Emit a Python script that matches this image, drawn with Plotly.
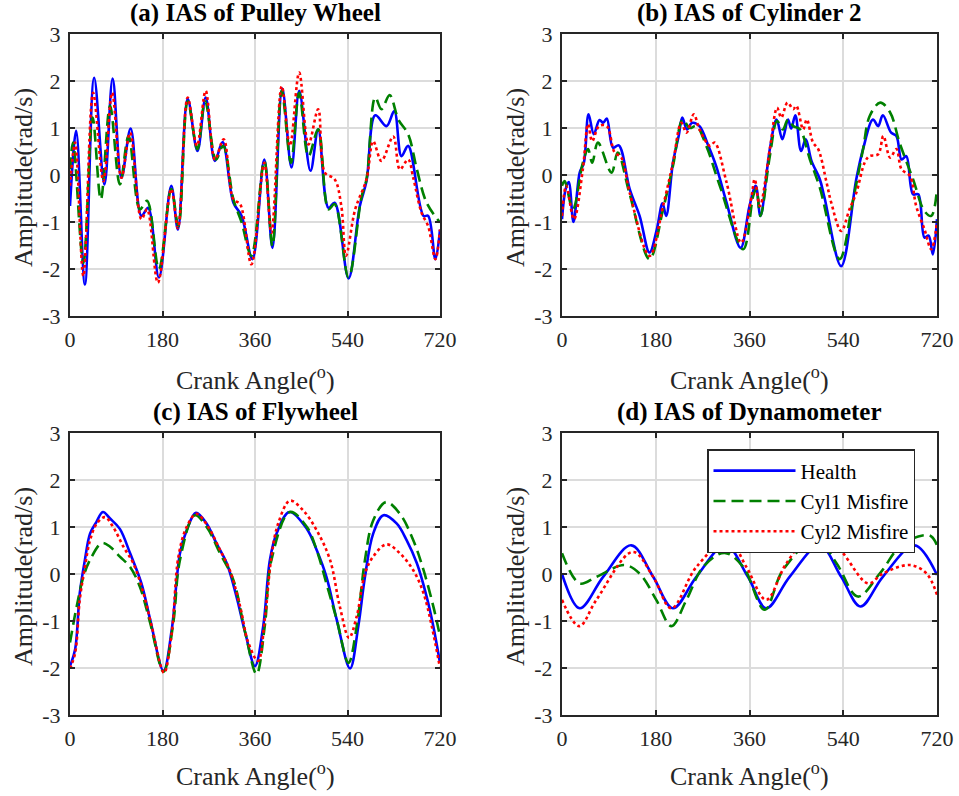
import plotly.graph_objects as go

# ---------------- data ----------------
# (a) IAS of Pulley Wheel
a_h_x = [0, 12, 29, 47, 67, 83, 100, 118, 139, 152, 173, 197, 210, 229, 248, 264, 282, 297, 318, 334, 355, 378, 394, 413, 431, 446, 468, 483, 503, 515, 542, 564, 577, 594, 616, 631, 645, 658, 688, 697, 711, 720]
a_h_y = [-0.66, 0.94, -2.33, 2.07, -0.2, 2.05, -0.06, 0.99, -0.87, -0.7, -2.18, -0.23, -1.16, 1.62, 0.51, 1.65, 0.3, 0.7, -0.59, -0.87, -1.79, 0.33, -1.55, 1.84, 0.16, 1.79, 0.09, 0.97, -0.7, -0.59, -2.2, -0.66, -0.13, 1.27, 1.04, 1.36, 0.4, 0.62, -0.87, -0.87, -1.79, -1.16]
a_c1_x = [0, 6, 26, 44, 60, 78, 97, 114, 136, 150, 173, 197, 211, 229, 248, 263, 284, 298, 318, 334, 353, 378, 394, 412, 430, 446, 464, 483, 503, 515, 542, 567, 577, 594, 606, 622, 639, 658, 675, 694, 720]
a_c1_y = [0.12, 0.69, -1.87, 1.22, -0.52, 1.47, -0.2, 0.83, -0.73, -0.55, -2.0, -0.3, -1.09, 1.57, 0.55, 1.57, 0.33, 0.62, -0.52, -1.01, -1.72, 0.3, -1.51, 1.79, 0.26, 1.75, 0.4, 0.97, -0.73, -0.62, -2.18, -0.48, -0.09, 1.65, 1.4, 1.7, 1.18, 0.87, 0.12, -0.59, -1.01]
a_c2_x = [0, 10, 26, 45, 65, 82, 100, 117, 139, 150, 171, 197, 210, 229, 247, 264, 282, 299, 318, 331, 353, 378, 392, 412, 428, 446, 464, 483, 496, 515, 528, 537, 555, 577, 590, 606, 629, 642, 658, 668, 684, 697, 711, 720]
a_c2_y = [-0.23, 0.69, -2.15, 1.75, -0.13, 1.75, -0.06, 0.9, -0.94, -0.73, -2.29, -0.3, -1.13, 1.65, 0.62, 1.79, 0.33, 0.76, -0.52, -0.62, -1.9, 0.26, -1.23, 1.89, 0.62, 2.18, 0.65, 1.4, 0.05, -0.09, -0.66, -1.72, -0.73, -0.09, 0.72, 0.3, 0.82, 0.12, 0.33, -0.06, -0.8, -1.09, -1.79, -1.16]

# (b) IAS of Cylinder 2
b_h_x = [0, 7, 13, 22, 34, 42, 51, 61, 72, 79, 86, 98, 109, 130, 149, 168, 182, 193, 200, 213, 224, 231, 240, 250, 264, 280, 296, 316, 343, 360, 372, 381, 399, 412, 423, 434, 440, 448, 459, 468, 479, 495, 504, 536, 565, 578, 597, 607, 616, 632, 642, 652, 661, 674, 684, 696, 704, 712, 720]
b_h_y = [-0.94, -0.3, -0.15, -1.0, 0.05, 0.26, 1.29, 0.87, 1.17, 1.11, 1.2, 0.58, 0.63, -0.3, -0.87, -1.65, -1.16, -0.6, -0.87, 0.26, 0.83, 1.22, 0.97, 1.11, 1.04, 0.65, 0.19, -0.59, -1.55, -0.66, -0.23, -0.87, 0.55, 1.18, 0.76, 1.18, 0.99, 1.27, 0.51, 0.76, 0.3, -0.09, -0.48, -1.94, -0.09, 0.55, 1.18, 1.04, 1.27, 0.9, 0.83, 0.33, 0.4, -0.41, -0.41, -1.33, -1.29, -1.69, -0.94]
b_c1_x = [0, 5, 21, 40, 50, 58, 69, 95, 107, 130, 168, 194, 213, 232, 245, 258, 277, 303, 348, 367, 373, 381, 399, 413, 424, 434, 444, 457, 476, 495, 533, 559, 578, 591, 611, 630, 648, 674, 696, 709, 720]
b_c1_y = [-0.23, -0.13, -0.73, 0.26, 0.55, 0.26, 0.69, 0.05, 0.48, -0.41, -1.79, -0.73, 0.19, 1.18, 1.0, 1.04, 0.62, -0.23, -1.58, -0.45, -0.3, -0.87, 0.4, 1.15, 0.97, 1.18, 1.04, 0.97, 0.33, -0.27, -1.79, -0.52, 0.55, 1.26, 1.54, 1.33, 0.69, -0.09, -0.77, -0.87, -0.3]
b_c2_x = [0, 8, 23, 40, 50, 58, 71, 86, 101, 114, 130, 168, 194, 213, 229, 239, 253, 264, 284, 293, 316, 344, 364, 370, 380, 399, 413, 421, 433, 444, 450, 463, 470, 482, 492, 508, 517, 536, 552, 565, 581, 590, 607, 617, 630, 642, 652, 668, 680, 696, 709, 720]
b_c2_y = [-0.87, -0.23, -0.94, 0.12, 1.08, 0.72, 1.04, 1.04, 0.48, 0.37, -0.38, -1.72, -0.66, 0.26, 1.11, 0.9, 1.29, 0.97, 0.62, 0.69, -0.16, -1.44, -0.45, -0.09, -0.66, 0.55, 1.43, 1.22, 1.54, 1.4, 1.47, 0.97, 1.18, 0.69, 0.55, -0.16, -0.59, -1.19, -0.73, -0.38, 0.26, 0.4, 0.44, 0.83, 0.37, 0.55, 0.12, -0.02, -0.66, -1.16, -1.58, -1.01]

# (c) IAS of Flywheel
c_h_x = [0, 10, 19, 29, 39, 51, 64, 78, 97, 117, 139, 156, 182, 198, 214, 227, 245, 266, 285, 305, 324, 341, 360, 376, 389, 402, 427, 461, 480, 499, 519, 545, 561, 574, 590, 610, 636, 655, 675, 694, 707, 720]
c_h_y = [-1.96, -1.6, -0.41, 0.3, 0.86, 1.1, 1.32, 1.18, 0.96, 0.44, -0.2, -0.97, -2.06, -1.18, 0.44, 0.93, 1.3, 1.07, 0.65, 0.23, -0.48, -1.25, -1.96, -1.11, 0.3, 0.86, 1.32, 0.96, 0.51, -0.06, -0.97, -2.01, -1.11, -0.06, 0.86, 1.25, 1.07, 0.72, 0.23, -0.48, -1.11, -1.89]
c_c1_x = [0, 13, 26, 39, 62, 78, 97, 117, 136, 156, 182, 201, 214, 243, 266, 292, 318, 341, 363, 379, 392, 428, 461, 480, 499, 519, 542, 558, 574, 590, 615, 642, 668, 688, 707, 720]
c_c1_y = [-1.46, -0.69, -0.06, 0.3, 0.66, 0.58, 0.37, 0.15, -0.27, -1.04, -2.08, -1.04, 0.3, 1.25, 1.0, 0.44, -0.13, -1.25, -2.13, -1.11, 0.3, 1.32, 1.0, 0.51, -0.2, -0.97, -1.89, -1.11, 0.3, 1.14, 1.53, 1.28, 0.72, 0.08, -0.69, -1.32]
c_c2_x = [0, 10, 19, 29, 39, 52, 68, 84, 104, 123, 143, 159, 183, 198, 211, 227, 246, 269, 292, 311, 331, 347, 366, 379, 392, 405, 428, 454, 480, 506, 525, 543, 558, 574, 590, 616, 642, 668, 688, 704, 720]
c_c2_y = [-2.01, -1.68, -0.55, 0.15, 0.72, 1.07, 1.21, 1.0, 0.58, 0.23, -0.41, -1.11, -2.1, -1.25, 0.37, 1.0, 1.28, 1.0, 0.51, 0.08, -0.69, -1.46, -1.85, -0.97, 0.37, 1.07, 1.56, 1.35, 0.93, 0.3, -0.69, -1.36, -0.9, 0.01, 0.37, 0.63, 0.44, 0.08, -0.41, -1.11, -2.0]

# (d) IAS of Dynamometer
d_h_x = [0, 34, 79, 133, 175, 213, 258, 314, 357, 392, 437, 495, 536, 573, 616, 677, 720]
d_h_y = [0.0, -0.73, -0.06, 0.61, -0.06, -0.73, -0.06, 0.61, -0.06, -0.73, -0.06, 0.61, -0.06, -0.69, -0.06, 0.61, -0.02]
d_c1_x = [0, 34, 66, 120, 149, 181, 210, 239, 271, 312, 348, 389, 424, 488, 527, 568, 610, 655, 706, 720]
d_c1_y = [0.44, -0.2, -0.06, 0.19, 0.01, -0.55, -1.11, -0.55, 0.15, 0.45, 0.15, -0.76, 0.08, 0.75, 0.23, -0.48, 0.01, 0.65, 0.82, 0.61]
d_c2_x = [0, 33, 66, 136, 175, 210, 258, 319, 354, 392, 431, 495, 540, 588, 616, 668, 700, 720]
d_c2_y = [-0.55, -1.11, -0.55, 0.47, -0.06, -0.73, 0.15, 0.72, 0.15, -0.55, 0.23, 1.05, 0.44, -0.2, 0.01, 0.19, 0.01, -0.44]

titles = ["(a) IAS of Pulley Wheel", "(b) IAS of Cylinder 2",
          "(c) IAS of Flywheel", "(d) IAS of Dynamometer"]
series_names = ["Health", "Cyl1 Misfire", "Cyl2 Misfire"]
x_ticks = [0, 180, 360, 540, 720]
x_ticktext = ["0", "180", "360", "540", "720"]
y_ticks = [-3, -2, -1, 0, 1, 2, 3]
y_ticktext = ["-3", "-2", "-1", "0", "1", "2", "3"]
x_label = "Crank Angle(<sup>o</sup>)"
y_label = "Amplitude(rad/s)"

panels = [
    [(a_h_x, a_h_y), (a_c1_x, a_c1_y), (a_c2_x, a_c2_y)],
    [(b_h_x, b_h_y), (b_c1_x, b_c1_y), (b_c2_x, b_c2_y)],
    [(c_h_x, c_h_y), (c_c1_x, c_c1_y), (c_c2_x, c_c2_y)],
    [(d_h_x, d_h_y), (d_c1_x, d_c1_y), (d_c2_x, d_c2_y)],
]

# ---------------- styling ----------------
W, H = 959, 796
FONT = "Liberation Serif"
TXT = "#262626"
colors = ["#0000ff", "#008000", "#ff0000"]
dashes = ["solid", "12px,6px", "3px,3px"]
# pixel boxes: (left, right, top, bottom)
boxes = [(70, 440, 34, 316), (562, 937, 34, 316),
         (70, 440, 433, 715), (562, 937, 433, 715)]
xtitle_shift = [-62, -62, -59, -59]

fig = go.Figure()
layout = dict(
    width=W, height=H,
    margin=dict(l=0, r=0, t=0, b=0, autoexpand=False),
    paper_bgcolor="white", plot_bgcolor="white",
    font=dict(family=FONT, size=22, color=TXT),
    showlegend=True,
)
annotations = []
for i, (panel, box) in enumerate(zip(panels, boxes)):
    l, r, t, b = box
    xd = [l / W, r / W]
    yd = [1 - b / H, 1 - t / H]
    xa = "x" if i == 0 else f"x{i+1}"
    ya = "y" if i == 0 else f"y{i+1}"
    for j, (xs, ys) in enumerate(panel):
        fig.add_trace(go.Scatter(
            x=xs, y=ys, mode="lines", xaxis=xa, yaxis=ya,
            name=series_names[j], showlegend=(i == 3),
            line=dict(color=colors[j], width=2.6, dash=dashes[j],
                      shape="spline", smoothing=1.0),
        ))
    common = dict(showline=True, mirror="ticks", linecolor=TXT, linewidth=2,
                  ticks="inside", ticklen=5, tickwidth=2, tickcolor=TXT,
                  showgrid=True, gridcolor="#dcdcdc", gridwidth=1.5,
                  zeroline=False, automargin=False, ticklabelstandoff=3,
                  tickfont=dict(family=FONT, size=22, color=TXT))
    layout["xaxis" if i == 0 else f"xaxis{i+1}"] = dict(
        domain=xd, anchor=ya, range=[0, 720], tickvals=x_ticks, ticktext=x_ticktext,
        **common)
    layout["yaxis" if i == 0 else f"yaxis{i+1}"] = dict(
        domain=yd, anchor=xa, range=[-3, 3], tickvals=y_ticks, ticktext=y_ticktext,
        **common)
    # panel title
    annotations.append(dict(
        text="<b>" + titles[i] + "</b>", xref="paper", yref="paper",
        x=(xd[0] + xd[1]) / 2, y=yd[1], yshift=5, xanchor="center", yanchor="bottom",
        showarrow=False, font=dict(family=FONT, size=25, color="#000000")))
    # x-axis title
    annotations.append(dict(
        text=x_label, xref="paper", yref="paper",
        x=(xd[0] + xd[1]) / 2, y=yd[0], yshift=xtitle_shift[i],
        xanchor="center", yanchor="middle",
        showarrow=False, font=dict(family=FONT, size=26, color=TXT)))
    # y-axis title
    annotations.append(dict(
        text=y_label, xref="paper", yref="paper", textangle=-90,
        x=xd[0], y=(yd[0] + yd[1]) / 2, xshift=-47, yshift=-3,
        xanchor="center", yanchor="middle",
        showarrow=False, font=dict(family=FONT, size=26, color=TXT)))

layout["annotations"] = annotations
layout["legend"] = dict(
    x=707 / W, y=1 - 449 / H, xanchor="left", yanchor="top",
    bgcolor="white", bordercolor=TXT, borderwidth=1.5,
    font=dict(family=FONT, size=21, color="#000000"),
    itemwidth=82, tracegroupgap=0,
)
fig.update_layout(**layout)
fig.write_html("out.html", config={"displayModeBar": False},
               post_script="document.body.style.margin='0px';document.body.style.overflow='hidden';")
